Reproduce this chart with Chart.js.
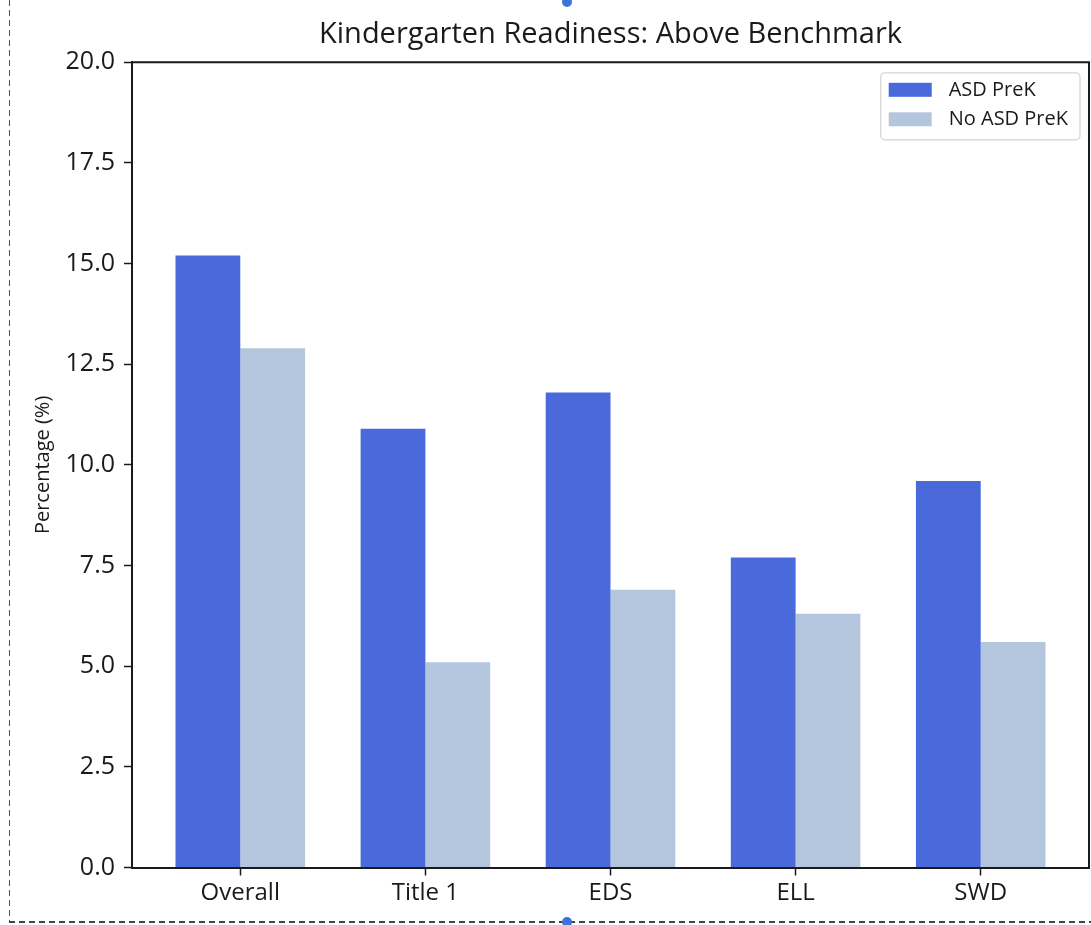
<!DOCTYPE html>
<html>
<head>
<meta charset="utf-8">
<title>Kindergarten Readiness: Above Benchmark</title>
<script src="https://cdn.jsdelivr.net/npm/chart.js@4.4.1/dist/chart.umd.min.js"></script>
<style>
  html, body { margin: 0; padding: 0; background: #fff; overflow: hidden; }
  #wrap { position: relative; width: 1091px; height: 925px; }
  #chart { position: absolute; left: 0; top: 0; }
  .dash-left {
    position: absolute; left: 9px; top: 0; width: 1px; height: 922px;
    background: repeating-linear-gradient(to bottom, #555 0 6px, transparent 6px 10px);
  }
  .dash-bottom {
    position: absolute; left: 9px; top: 921px; width: 1082px; height: 2px;
    background: repeating-linear-gradient(to right, #444 0 6px, transparent 6px 10px);
  }
  .handle {
    position: absolute; width: 10px; height: 10px; border-radius: 50%;
    background: #3b74d8;
  }
</style>
</head>
<body>
<div id="wrap">
  <canvas id="chart" width="1091" height="925"></canvas>
  <div class="dash-left"></div>
  <div class="dash-bottom"></div>
  <div class="handle" style="left:562px; top:-3px;"></div>
  <div class="handle" style="left:562px; top:917px;"></div>
</div>
<script>
(function () {
  'use strict';

  var categories = ['Overall', 'Title 1', 'EDS', 'ELL', 'SWD'];
  var asdPreK = [15.2, 10.9, 11.8, 7.7, 9.6];
  var noAsdPreK = [12.9, 5.1, 6.9, 6.3, 5.6];
  var yTicks = [0, 2.5, 5, 7.5, 10, 12.5, 15, 17.5, 20];

  var FONT = '"Open Sans", "DejaVu Sans", sans-serif';
  var INK = '#1a1a1a';

  function points(values) {
    return values.map(function (v, i) { return { x: i, y: v }; });
  }

  // top + right spines, like a matplotlib axes box
  var framePlugin = {
    id: 'frame',
    afterDraw: function (chart) {
      var ctx = chart.ctx, a = chart.chartArea;
      ctx.save();
      ctx.strokeStyle = INK;
      ctx.lineWidth = 2;
      ctx.beginPath();
      ctx.moveTo(a.left, a.top);
      ctx.lineTo(a.right, a.top);
      ctx.lineTo(a.right, a.bottom);
      ctx.stroke();
      ctx.restore();
    }
  };

  // boxed legend in the upper right corner of the plot
  var legendPlugin = {
    id: 'boxLegend',
    afterDraw: function (chart) {
      var ctx = chart.ctx, a = chart.chartArea;
      var sets = chart.data.datasets;
      ctx.save();
      ctx.font = '20px ' + FONT;
      var maxW = 0;
      sets.forEach(function (d) { maxW = Math.max(maxW, ctx.measureText(d.label).width); });
      var w = 8 + 43 + 17 + maxW + 12;
      var h = 67;
      var x = a.right - 9 - w;
      var y = a.top + 10.5;
      ctx.fillStyle = 'rgba(255,255,255,0.8)';
      ctx.strokeStyle = '#d4d4d4';
      ctx.lineWidth = 1.2;
      ctx.beginPath();
      ctx.roundRect(x, y, w, h, 4);
      ctx.fill();
      ctx.stroke();
      ctx.textBaseline = 'middle';
      ctx.textAlign = 'left';
      sets.forEach(function (d, i) {
        var cy = y + 17 + i * 29.5;
        ctx.fillStyle = d.backgroundColor;
        ctx.fillRect(x + 8, cy - 7, 43, 14);
        ctx.fillStyle = INK;
        ctx.fillText(d.label, x + 8 + 43 + 17, cy);
      });
      ctx.restore();
    }
  };

  new Chart(document.getElementById('chart'), {
    type: 'bar',
    data: {
      datasets: [{
        label: 'ASD PreK',
        data: points(asdPreK),
        backgroundColor: '#4a69db',
        categoryPercentage: 0.7,
        barPercentage: 1.0,
      }, {
        label: 'No ASD PreK',
        data: points(noAsdPreK),
        backgroundColor: '#b4c5de',
        categoryPercentage: 0.7,
        barPercentage: 1.0,
      }]
    },
    options: {
      responsive: false,
      animation: false,
      devicePixelRatio: 1,
      layout: { padding: { left: 0, right: 2, top: 0, bottom: 0 } },
      plugins: {
        legend: { display: false },
        tooltip: { enabled: false },
        title: {
          display: true,
          text: 'Kindergarten Readiness: Above Benchmark',
          fullSize: false,
          color: INK,
          font: { family: FONT, size: 29, weight: 'normal', lineHeight: 1.2 },
          padding: { top: 17, bottom: 10.5 }
        }
      },
      scales: {
        x: {
          type: 'linear',
          offset: false,
          min: -0.585,
          max: categories.length - 1 + 0.585,
          afterBuildTicks: function (axis) {
            axis.ticks = categories.map(function (_, i) { return { value: i }; });
          },
          afterFit: function (axis) { axis.height = 57.5; },
          ticks: {
            autoSkip: false,
            maxRotation: 0,
            padding: 3,
            color: INK,
            font: { family: FONT, size: 24 },
            callback: function (v) { return categories[v]; }
          },
          grid: {
            offset: false,
            drawOnChartArea: false,
            drawTicks: true,
            tickLength: 8,
            tickWidth: 1.5,
            tickColor: INK
          },
          border: { display: true, color: INK, width: 2 }
        },
        y: {
          min: 0,
          max: 20,
          afterBuildTicks: function (axis) {
            axis.ticks = yTicks.map(function (v) { return { value: v }; });
          },
          afterFit: function (axis) { axis.width = 132; },
          ticks: {
            padding: 9,
            color: INK,
            font: { family: FONT, size: 25 },
            callback: function (v) { return Number(v).toFixed(1); }
          },
          grid: {
            drawOnChartArea: false,
            drawTicks: true,
            tickLength: 8,
            tickWidth: 1.5,
            tickColor: INK
          },
          border: { display: true, color: INK, width: 2 },
          title: {
            display: true,
            text: 'Percentage (%)',
            color: INK,
            font: { family: FONT, size: 20, lineHeight: 1.2 },
            padding: { top: 31, bottom: 0 }
          }
        }
      }
    },
    plugins: [framePlugin, legendPlugin]
  });
})();
</script>
</body>
</html>
